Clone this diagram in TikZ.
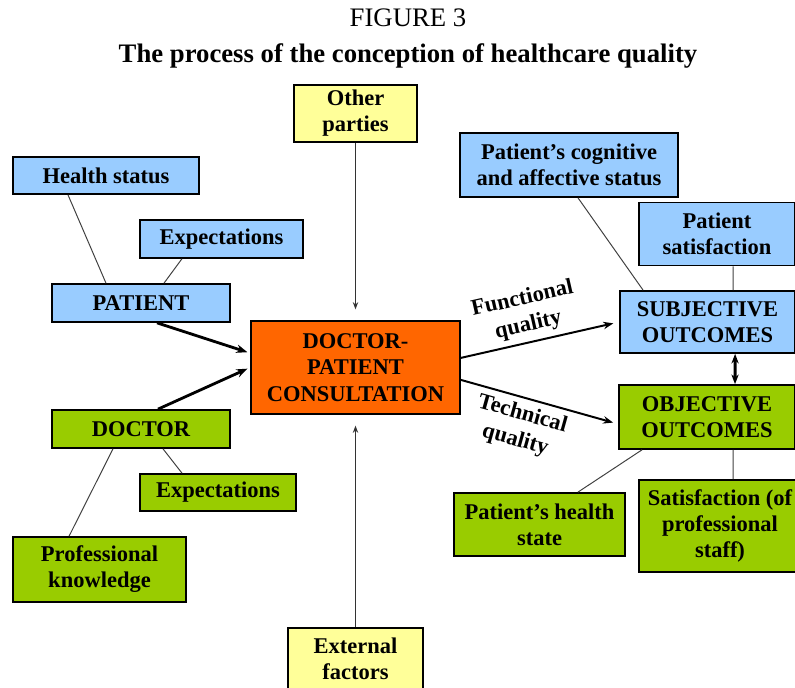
\documentclass[tikz,border=0pt]{standalone}
\usepackage{fontspec}
\setmainfont{Liberation Serif}
\usepackage{tikz}
\usetikzlibrary{arrows.meta, positioning, calc}
\definecolor{cBlue}{RGB}{153,204,255}
\definecolor{cGreen}{RGB}{153,204,0}
\definecolor{cOrange}{RGB}{255,102,0}
\definecolor{cYellow}{RGB}{255,255,153}
\tikzset{
	box/.style ={rectangle, draw=black, line width=1.2pt, align=center, inner sep=2pt, font=\bfseries\fontsize{16}{18.5}\selectfont},
	pbox/.style={box, fill=cBlue},
	dbox/.style={box, fill=cGreen},
	xbox/.style={box, fill=cYellow},
	cbox/.style={box, fill=cOrange, font=\bfseries\fontsize{16}{19}\selectfont},
	% connector styles
	tie/.style  ={draw=black!75, line width=0.7pt},
	feed/.style ={-{Stealth[length=2.8mm]}, line width=2pt},
	qual/.style ={-{Stealth[length=2.5mm]}, line width=1.4pt},
	infl/.style ={-{Stealth[length=1.8mm]}, line width=0.7pt, draw=black!80},
	both/.style ={{Stealth[length=2.4mm]}-{Stealth[length=2.4mm]}, line width=2.2pt},
	qlabel/.style={font=\bfseries\fontsize{16}{19}\selectfont, align=center, inner sep=1pt},
}

\begin{document}
\begin{tikzpicture}[x=0.025cm, y=-0.025cm]
	\useasboundingbox (0,0) rectangle (795,688);
	\node[anchor=base, font=\fontsize{19}{22}\selectfont] (fig) at (408,27) {FIGURE 3};
	\node[anchor=base, font=\bfseries\fontsize{19}{22}\selectfont] (ttl) at (408,63) {The process of the conception of healthcare quality};
	\node[xbox, minimum width=3.075cm, minimum height=1.425cm] (oth) at (355.5,113.5) {Other\\parties};
	\node[xbox, minimum width=3.375cm, minimum height=1.55cm] (ext) at (355.5,659) {External\\factors};
	\node[cbox, minimum width=5.225cm, minimum height=2.325cm] (cons) at (355.5,367.5) {DOCTOR-\\PATIENT\\CONSULTATION};
	\node[pbox, minimum width=4.65cm, minimum height=0.925cm] (hs) at (106,175.5) {Health status};
	\node[pbox, minimum width=4.075cm, minimum height=0.95cm] (expP) at (221.5,239) {Expectations};
	\node[pbox, minimum width=4.45cm, minimum height=0.95cm] (pat) at (141,303) {PATIENT};
	\node[dbox, minimum width=4.45cm, minimum height=0.95cm] (doc) at (141,429) {DOCTOR};
	\node[dbox, minimum width=3.9cm, minimum height=0.925cm] (expD) at (218,492.5) {Expectations};
	\node[dbox, minimum width=4.325cm, minimum height=1.625cm] (pk) at (99.5,569.5) {Professional\\knowledge};
	\node[pbox, minimum width=5.45cm, minimum height=1.6cm] (cog) at (569,165) {Patient’s cognitive\\and affective status};
	\node[pbox, minimum width=3.9cm, minimum height=1.575cm] (ps) at (717,234) {Patient\\satisfaction};
	\node[pbox, minimum width=4.375cm, minimum height=1.55cm] (sub) at (707.5,322) {SUBJECTIVE\\OUTCOMES};
	\node[dbox, minimum width=4.4cm, minimum height=1.6cm] (obj) at (707,417) {OBJECTIVE\\OUTCOMES};
	\node[dbox, minimum width=4.275cm, minimum height=1.575cm] (phs) at (539.5,524.5) {Patient’s health\\state};
	\node[dbox, minimum width=4.05cm, minimum height=2.3cm] (sst) at (720,526) {Satisfaction (of\\professional\\staff)};
	\draw[tie] ([xshift=-0.95cm]hs.south) -- ([xshift=-0.875cm]pat.north);
	\draw[tie] ([xshift=-0.99cm]expP.south) -- ([xshift=0.575cm]pat.north);
	\draw[tie] ([xshift=-0.7cm]doc.south) -- ([xshift=-0.76cm]pk.north);
	\draw[tie] ([xshift=0.55cm]doc.south) -- ([xshift=-0.9cm]expD.north);
	\draw[tie] ([xshift=0.225cm]cog.south) -- ([xshift=-1.61cm]sub.north);
	\draw[tie] ([xshift=0.4cm]ps.south) -- ([xshift=0.64cm]sub.north);
	\draw[tie] ([xshift=-1.625cm]obj.south) -- ([xshift=0.96cm]phs.north);
	\draw[tie] ([xshift=0.65cm]obj.south) -- ([xshift=0.325cm]sst.north);
	\draw[feed, shorten >=2pt] ([xshift=0.4cm]pat.south) -- ([yshift=0.36cm]cons.west);
	\draw[feed, shorten >=2pt] ([xshift=0.425cm]doc.north) -- (cons.west);
	\draw[infl, shorten >=0.27cm] (oth) -- (cons);
	\draw[infl, shorten >=0.27cm] (ext) -- (cons);
	\draw[qual, shorten >=0.15cm] ([yshift=0.24cm]cons.east) -- (sub.west)
		node[qlabel, pos=0.45, above=3pt, sloped] {Functional\\quality};
	\draw[qual, shorten >=0.13cm] ([yshift=-0.31cm]cons.east) -- ([yshift=-0.175cm]obj.west)
		node[qlabel, pos=0.42, below=3pt, sloped] {Technical\\quality};
	\draw[both] ([xshift=0.69cm]sub.south) -- ([xshift=0.7cm]obj.north);
\end{tikzpicture}
\end{document}
